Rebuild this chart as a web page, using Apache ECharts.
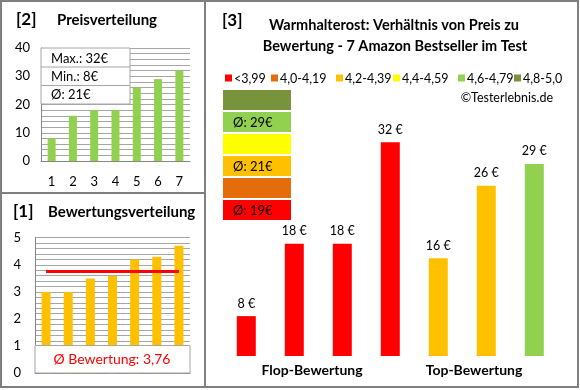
<!DOCTYPE html>
<html><head><meta charset="utf-8">
<script src="https://cdn.jsdelivr.net/npm/echarts@6/dist/echarts.min.js"></script>
<style>html,body{margin:0;padding:0;background:#fff}#c{width:580px;height:390px}</style>
</head><body><div id="c"></div>
<script>
// ---- data ----
const priceCategories = ['1','2','3','4','5','6','7'];
const pricesSorted = [8, 16, 18, 18, 26, 29, 32];
const ratingCategories = ['1','2','3','4','5','6','7'];
const ratingsSorted = [3.0, 3.0, 3.5, 3.6, 4.2, 4.3, 4.7];
const productCategories = ['P1','P2','P3','P4','P5','P6','P7'];
const productPrices = [8, 18, 18, 32, 16, 26, 29];
const productRatings = [3.0, 3.0, 3.5, 3.6, 4.2, 4.3, 4.7];
const classLabels = ['<3,99','4,0-4,19','4,2-4,39','4,4-4,59','4,6-4,79','4,8-5,0'];
const classLower = [0, 4.0, 4.2, 4.4, 4.6, 4.8];
const classColors = ['#FF0000','#E46C0A','#FFC000','#FFFF00','#92D050','#77933C'];
const groupLabels = ['Flop-Bewertung','Top-Bewertung'];
const priceTicks = {min: 0, max: 40, interval: 10};
const ratingTicks = {min: 0, max: 5, interval: 1};

// ---- derived ----
const FONT = 'Lato';
const classOf = r => { let k = 0; classLower.forEach((b,i)=>{ if (r >= b) k = i; }); return k; };
const avgPrice = Math.round(pricesSorted.reduce((a,b)=>a+b,0)/pricesSorted.length);
const maxPrice = Math.max(...pricesSorted), minPrice = Math.min(...pricesSorted);
const avgRating = ratingsSorted.reduce((a,b)=>a+b,0)/ratingsSorted.length;
const avgRatingTxt = avgRating.toFixed(2).replace('.', ',');
const classAvg = classLabels.map((_,k)=>{
  const p = productPrices.filter((v,i)=>classOf(productRatings[i])===k);
  return p.length ? Math.round(p.reduce((a,b)=>a+b,0)/p.length) : null;
});

const chart = echarts.init(document.getElementById('c'), null, {renderer:'canvas'});
const gridCol = '#a6a6a6';
const axisCol = '#868686';

const graphic = [];
// frame
graphic.push({type:'rect', shape:{x:1,y:1,width:577,height:386}, style:{fill:'none', stroke:'#7f7f7f', lineWidth:2}, z:100});
graphic.push({type:'line', shape:{x1:205,y1:1,x2:205,y2:387}, style:{stroke:'#7f7f7f', lineWidth:2}, z:100});
graphic.push({type:'line', shape:{x1:1,y1:193,x2:205,y2:193}, style:{stroke:'#7f7f7f', lineWidth:2}, z:100});
// titles
const T = (text,x,y,size,extra)=>Object.assign({type:'text', x, y, style:{text, fontFamily:FONT, fontSize:size, fontWeight:'bold', fill:'#000', verticalAlign:'middle'}, z:100}, extra||{});
graphic.push(T('[2]',16,20,17));
graphic.push(T('Preisverteilung',57,20,15));
graphic.push(T('[1]',13,212,17));
graphic.push(T('Bewertungsverteilung',48,212,15));
graphic.push(T('[3]',222,21,17));
graphic.push({type:'text', x:394, y:25, style:{text:'Warmhalterost: Verhältnis von Preis zu', fontFamily:FONT, fontSize:14.5, fontWeight:'bold', fill:'#000', align:'center', verticalAlign:'middle'}, z:100});
graphic.push({type:'text', x:395, y:46, style:{text:'Bewertung - 7 Amazon Bestseller im Test', fontFamily:FONT, fontSize:14.5, fontWeight:'bold', fill:'#000', align:'center', verticalAlign:'middle'}, z:100});
graphic.push({type:'text', x:553, y:98, style:{text:'©Testerlebnis.de', fontFamily:FONT, fontSize:12.5, fill:'#000', align:'right', verticalAlign:'middle'}, z:100});
// legend
const legendX = [225, 271, 336, 393, 458, 514];
classLabels.forEach((lab,i)=>{
  graphic.push({type:'rect', shape:{x:legendX[i], y:74.5, width:7, height:7}, style:{fill:classColors[i]}, z:100});
  graphic.push({type:'text', x:legendX[i]+9, y:78.5, style:{text:lab, fontFamily:FONT, fontSize:12.5, fill:'#000', verticalAlign:'middle'}, z:100});
});
// class boxes (top: best class)
for (let j=0;j<6;j++){
  const k = 5-j;
  const y = 90 + j*22;
  graphic.push({type:'rect', shape:{x:223, y, width:68, height:20}, style:{fill:classColors[k]}, z:100});
  if (classAvg[k] !== null)
    graphic.push({type:'text', x:233, y:y+11, style:{text:'Ø: '+classAvg[k]+'€', fontFamily:FONT, fontSize:13, fill:'#000', verticalAlign:'middle'}, z:101});
}
// group labels
graphic.push({type:'text', x:312, y:370, style:{text:groupLabels[0], fontFamily:FONT, fontSize:14, fontWeight:'bold', fill:'#000', align:'center', verticalAlign:'middle'}, z:100});
graphic.push({type:'text', x:474, y:370, style:{text:groupLabels[1], fontFamily:FONT, fontSize:14, fontWeight:'bold', fill:'#000', align:'center', verticalAlign:'middle'}, z:100});
// price info box
graphic.push({type:'rect', shape:{x:41, y:48, width:89, height:56}, style:{fill:'#fff', stroke:'#a6a6a6', lineWidth:1}, z:100});
graphic.push({type:'line', shape:{x1:41,y1:67,x2:130,y2:67}, style:{stroke:'#a6a6a6', lineWidth:1}, z:100});
graphic.push({type:'line', shape:{x1:41,y1:85.5,x2:130,y2:85.5}, style:{stroke:'#a6a6a6', lineWidth:1}, z:100});
const infoRows = ['Max.: '+maxPrice+'€', 'Min.: '+minPrice+'€', 'Ø: '+avgPrice+'€'];
infoRows.forEach((t,i)=>graphic.push({type:'text', x:51, y:58.5+i*18.3, style:{text:t, fontFamily:FONT, fontSize:13, fill:'#000', verticalAlign:'middle'}, z:101}));
// rating box
graphic.push({type:'rect', shape:{x:35, y:345.5, width:155, height:27.5}, style:{fill:'#fff', stroke:'#a6a6a6', lineWidth:1}, z:100});
graphic.push({type:'text', x:112, y:359.5, style:{text:'Ø Bewertung: '+avgRatingTxt, fontFamily:FONT, fontSize:14, fill:'#FF0000', align:'center', verticalAlign:'middle'}, z:101});

const yBase = (t, margin) => ({
  type:'value', min:t.min, max:t.max, interval:t.interval,
  axisLine:{show:true, lineStyle:{color:axisCol}},
  axisTick:{show:false},
  axisLabel:{color:'#000', fontFamily:FONT, fontSize:13, margin},
  splitLine:{show:true, lineStyle:{color:gridCol}},
  minorTick:{show:false, splitNumber:5},
  minorSplitLine:{show:true, lineStyle:{color:gridCol}}
});

chart.setOption({
  animation:false,
  graphic,
  grid:[
    {left:41, top:48, width:149, height:113},
    {left:35, top:237.7, width:155, height:135.6},
    {left:222.3, top:84.125, width:336, height:271.875}
  ],
  xAxis:[
    {gridIndex:0, type:'category', data:priceCategories, axisLine:{lineStyle:{color:axisCol}}, axisTick:{show:false}, axisLabel:{color:'#000', fontFamily:FONT, fontSize:13, margin:14}},
    {gridIndex:1, type:'category', data:ratingCategories, axisLine:{lineStyle:{color:axisCol}}, axisTick:{show:false}, axisLabel:{show:false}},
    {gridIndex:2, type:'category', data:productCategories, show:false}
  ],
  yAxis:[
    Object.assign(yBase(priceTicks, 11), {gridIndex:0}),
    Object.assign(yBase(ratingTicks, 14), {gridIndex:1}),
    {gridIndex:2, type:'value', min:2.5, max:40, show:false, splitLine:{show:false}}
  ],
  series:[
    {type:'bar', xAxisIndex:0, yAxisIndex:0, data:pricesSorted, barWidth:8, itemStyle:{color:'#92D050'}},
    {type:'bar', xAxisIndex:1, yAxisIndex:1, data:ratingsSorted, barWidth:9, itemStyle:{color:'#FFC000'},
      markLine:{symbol:'none', silent:true, label:{show:false}, lineStyle:{color:'#FF0000', width:3, type:'solid'},
        data:[[{coord:[0, avgRating]},{coord:[ratingCategories.length-1, avgRating]}]]}},
    {type:'bar', xAxisIndex:2, yAxisIndex:2, barWidth:19,
      data:productPrices.map((v,i)=>({value:v, itemStyle:{color:classColors[classOf(productRatings[i])]}})),
      label:{show:true, position:'top', distance:6, formatter:'{c} €', fontFamily:FONT, fontSize:12.5, color:'#000'}}
  ]
});
</script></body></html>
